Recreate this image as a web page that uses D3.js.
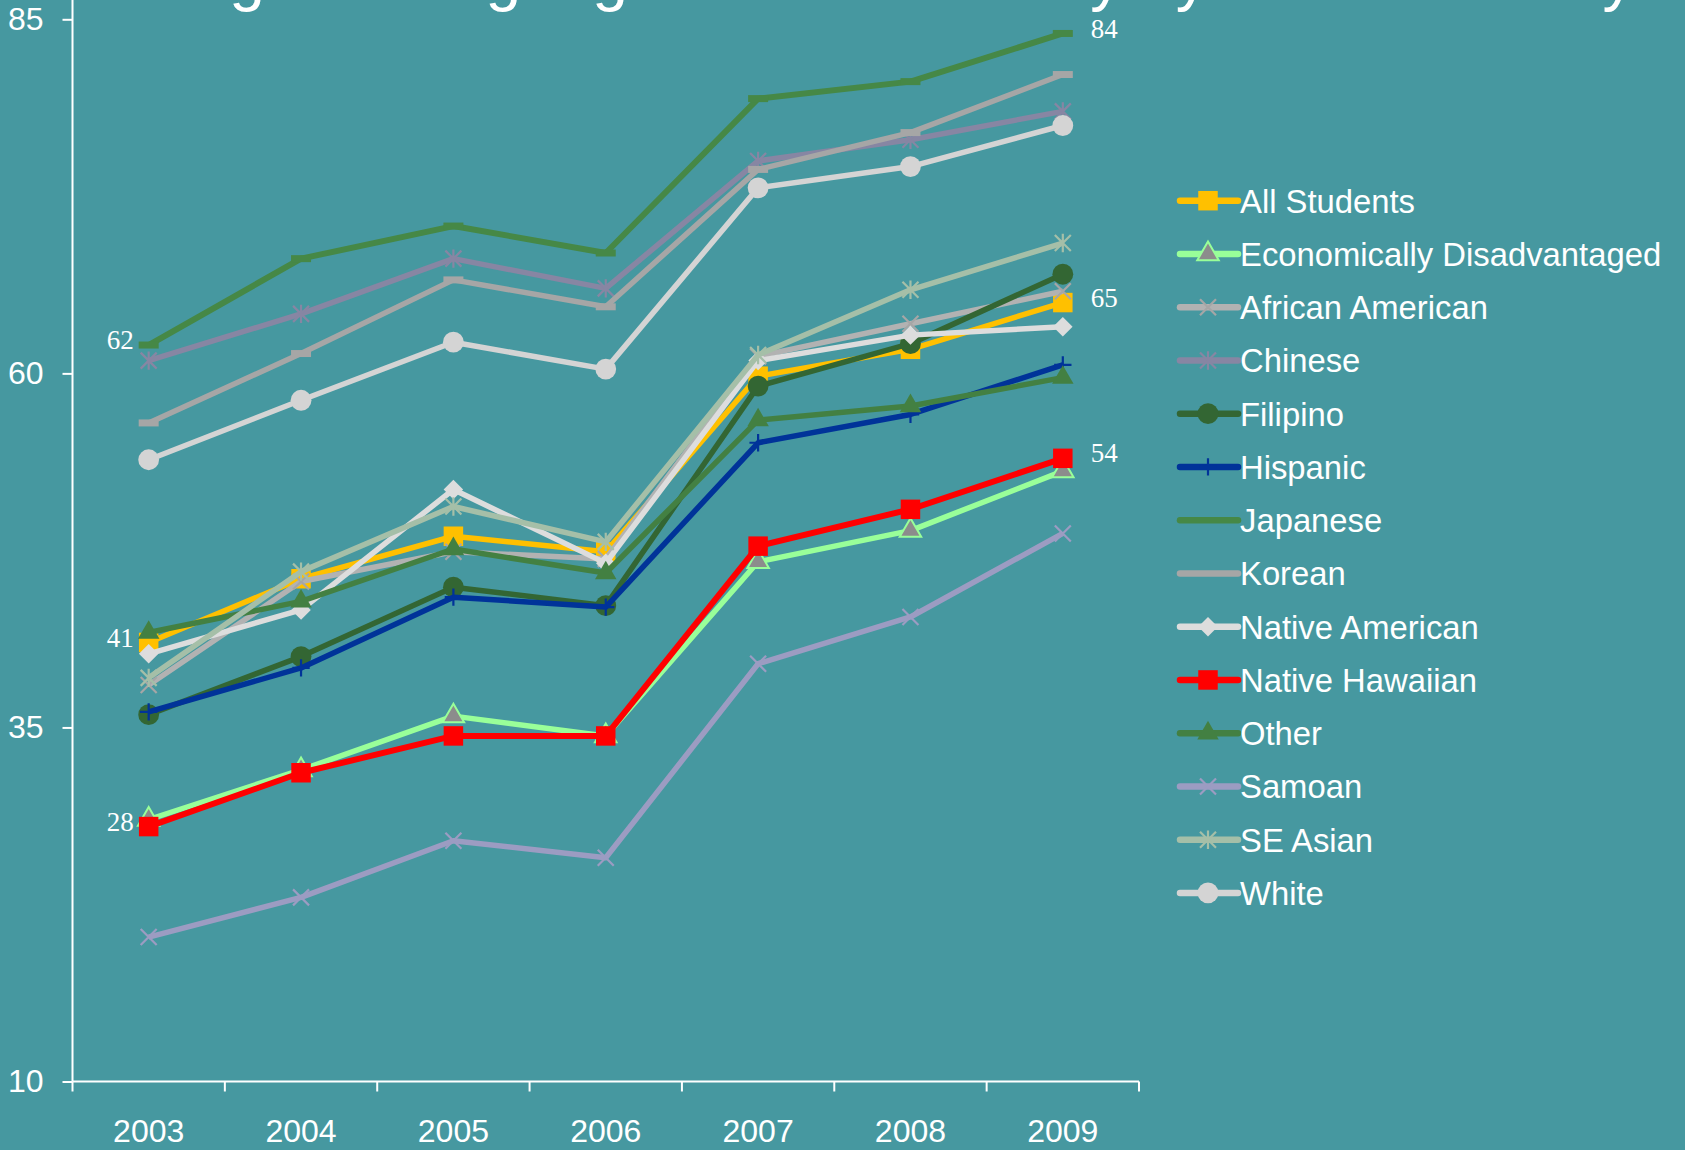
<!DOCTYPE html>
<html>
<head>
<meta charset="utf-8">
<script src="https://cdn.jsdelivr.net/npm/d3@7"></script>
<style>
  html, body { margin: 0; padding: 0; background: #4698A0; }
  svg { display: block; }
  text { font-family: "Liberation Sans", Arial, sans-serif; fill: #fff; }
</style>
</head>
<body>
<svg id="chart" width="1685" height="1150"></svg>
<script>
// School years on the horizontal axis
const years = ["2003", "2004", "2005", "2006", "2007", "2008", "2009"];
const yTicks = [10, 35, 60, 85];

// Percent proficient, one array per student group
const allStudents      = [41, 45.5, 48.5, 47.4, 59.8, 61.7, 65];
const econDisadvantaged = [28.5, 32.0, 35.8, 34.4, 46.7, 48.9, 53.1];
const africanAmerican  = [38.0, 45.3, 47.4, 46.9, 61.2, 63.5, 65.8];
const chinese          = [60.9, 64.2, 68.1, 66.0, 75.0, 76.5, 78.5];
const filipino         = [35.9, 40.0, 44.9, 43.6, 59.1, 62.1, 67.0];
const hispanic         = [36.1, 39.2, 44.2, 43.5, 55.1, 57.1, 60.6];
const japanese         = [62, 68.1, 70.4, 68.5, 79.4, 80.6, 84];
const korean           = [56.5, 61.4, 66.6, 64.7, 74.4, 77.0, 81.1];
const nativeAmerican   = [40.2, 43.3, 51.8, 46.6, 60.9, 62.7, 63.3];
const nativeHawaiian   = [28, 31.8, 34.4, 34.4, 47.8, 50.4, 54];
const otherGroup       = [41.7, 43.9, 47.6, 45.9, 56.7, 57.7, 59.7];
const samoan           = [20.2, 23.0, 27.0, 25.8, 39.5, 42.8, 48.7];
const seAsian          = [38.5, 46.0, 50.6, 48.1, 61.3, 65.9, 69.2];
const white            = [53.9, 58.1, 62.2, 60.3, 73.1, 74.6, 77.5];

// Groups whose first and last values are printed next to the points
const labelledGroups = ["Japanese", "All Students", "Native Hawaiian"];

// Custom marker shapes (Excel-style)
const symX = { draw(c, size) { const r = Math.sqrt(size) / 2; c.moveTo(-r, -r); c.lineTo(r, r); c.moveTo(-r, r); c.lineTo(r, -r); } };
const symStar = { draw(c, size) { const r = Math.sqrt(size) / 2; c.moveTo(-r, -r); c.lineTo(r, r); c.moveTo(-r, r); c.lineTo(r, -r); c.moveTo(0, -r * 1.15); c.lineTo(0, r * 1.15); } };
const symPlus = { draw(c, size) { const r = Math.sqrt(size) / 2; c.moveTo(0, -r); c.lineTo(0, r); c.moveTo(-r, 0); c.lineTo(r, 0); } };
const symDash = { draw(c, size) { const w = Math.sqrt(size) / 2; c.rect(-w, -3.5, 2 * w, 7); c.closePath(); } };
const symDiamond = { draw(c, size) { const r = Math.sqrt(size) / 2; c.moveTo(0, -r); c.lineTo(r, 0); c.lineTo(0, r); c.lineTo(-r, 0); c.closePath(); } };

const markers = {
  square:   { type: d3.symbolSquare, size: 380, filled: true },
  triangle: { type: d3.symbolTriangle, size: 200, filled: true },
  circle:   { type: d3.symbolCircle, size: 340, filled: true },
  diamond:  { type: symDiamond, size: 380, filled: true },
  x:        { type: symX, size: 256, filled: false },
  star:     { type: symStar, size: 256, filled: false },
  plus:     { type: symPlus, size: 300, filled: false },
  dash:     { type: symDash, size: 400, filled: true },
  none:     null
};

const groups = [
  { name: "All Students", values: allStudents, color: "#FFC000", marker: "square", mfill: "#FFC000", width: 5.5 },
  { name: "Economically Disadvantaged", values: econDisadvantaged, color: "#99FF99", marker: "triangle", mfill: "#8C8C8C", mstroke: "#99FF99", width: 5.5 },
  { name: "African American", values: africanAmerican, color: "#B2B2B2", marker: "x", mfill: "#A6A6A6", width: 5.5 },
  { name: "Chinese", values: chinese, color: "#8786A3", marker: "star", mfill: "#8786A3", width: 5.5 },
  { name: "Filipino", values: filipino, color: "#336633", marker: "circle", mfill: "#336633", width: 5.5 },
  { name: "Hispanic", values: hispanic, color: "#003399", marker: "plus", mfill: "#003399", width: 5.5 },
  { name: "Japanese", values: japanese, color: "#468846", marker: "dash", mfill: "#468846", width: 6 },
  { name: "Korean", values: korean, color: "#A6A6A6", marker: "dash", mfill: "#A6A6A6", width: 5.5 },
  { name: "Native American", values: nativeAmerican, color: "#DDDDDD", marker: "diamond", mfill: "#DDDDDD", width: 5.5 },
  { name: "Native Hawaiian", values: nativeHawaiian, color: "#FF0000", marker: "square", mfill: "#FF0000", width: 6 },
  { name: "Other", values: otherGroup, color: "#438042", marker: "triangle", mfill: "#438042", width: 5.5 },
  { name: "Samoan", values: samoan, color: "#9C9CC2", marker: "x", mfill: "#9C9CC2", width: 5.5 },
  { name: "SE Asian", values: seAsian, color: "#A5BFA8", marker: "star", mfill: "#A5BFA8", width: 5.5 },
  { name: "White", values: white, color: "#D4D4D4", marker: "circle", mfill: "#D4D4D4", width: 5.5 }
];

const svg = d3.select("#chart");

// Title (runs off the top edge of the slide)
svg.append("text")
  .attr("x", 151).attr("y", -1)
  .style("font-size", "64px")
  .text("English Language Arts Proficiency by Race/Ethnicity");

const x = d3.scaleBand().domain(years).range([72.5, 1139]);
const xc = d => x(d) + x.bandwidth() / 2;
const y = d3.scaleLinear().domain([10, 85]).range([1081.5, 19.3]);

// Y axis
const yAxis = svg.append("g").attr("transform", "translate(72.5,0)")
  .call(d3.axisLeft(y).tickValues(yTicks).tickSize(10).tickPadding(19).tickFormat(d3.format("d")));
yAxis.select(".domain").remove();
yAxis.insert("line", ":first-child").attr("x1", 0).attr("x2", 0).attr("y1", 0).attr("y2", y(10))
  .attr("stroke", "#fff").attr("stroke-width", 2);
yAxis.selectAll(".tick line").attr("stroke", "#fff").attr("stroke-width", 2);
yAxis.selectAll(".tick text").style("font-size", "32px").attr("fill", "#fff")
  .style("font-family", "'Liberation Sans', Arial, sans-serif");

// X axis: ticks sit on the band edges, labels in the band centres
const xAxis = svg.append("g").attr("transform", `translate(0,${y(10)})`);
xAxis.append("line").attr("x1", 72.5).attr("x2", 1139).attr("stroke", "#fff").attr("stroke-width", 2);
const edges = years.map(d => x(d)).concat([x(years[years.length - 1]) + x.bandwidth()]);
xAxis.selectAll("line.edge").data(edges).join("line").attr("class", "edge")
  .attr("x1", d => d).attr("x2", d => d).attr("y1", 0).attr("y2", 10)
  .attr("stroke", "#fff").attr("stroke-width", 2);
xAxis.selectAll("text").data(years).join("text")
  .attr("x", d => xc(d)).attr("y", 60)
  .attr("text-anchor", "middle").style("font-size", "32px")
  .text(d => d);

const line = d3.line().x((d, i) => xc(years[i])).y(d => y(d)).curve(d3.curveLinear);

function drawMarker(sel, g) {
  const m = markers[g.marker];
  if (!m) return sel;
  const p = sel.attr("d", d3.symbol().type(m.type).size(m.size));
  if (m.filled) {
    p.attr("fill", g.mfill);
    if (g.mstroke) p.attr("stroke", g.mstroke).attr("stroke-width", 2);
  } else {
    p.attr("fill", "none").attr("stroke", g.mfill).attr("stroke-width", 2.2);
  }
  return p;
}

// Series: line then markers, in legend order
const plot = svg.append("g");
groups.forEach(g => {
  const gg = plot.append("g");
  gg.append("path").datum(g.values)
    .attr("d", line)
    .attr("fill", "none").attr("stroke", g.color)
    .attr("stroke-width", g.width).attr("stroke-linejoin", "round");
  gg.selectAll("path.mk").data(g.values).join("path").attr("class", "mk")
    .attr("transform", (d, i) => `translate(${xc(years[i])},${y(d)})`)
    .call(s => drawMarker(s, g));
});

// Value labels at the first and last year
const fmt = d3.format(".0f");
labelledGroups.forEach(name => {
  const g = groups.find(s => s.name === name);
  const last = g.values.length - 1;
  svg.append("text")
    .attr("x", xc(years[0]) - 15).attr("y", y(g.values[0])).attr("dy", "0.15em")
    .attr("text-anchor", "end")
    .style("font-family", "'Liberation Serif', 'Times New Roman', serif").style("font-size", "27px")
    .text(fmt(g.values[0]));
  svg.append("text")
    .attr("x", xc(years[last]) + 28).attr("y", y(g.values[last])).attr("dy", "0.15em")
    .attr("text-anchor", "start")
    .style("font-family", "'Liberation Serif', 'Times New Roman', serif").style("font-size", "27px")
    .text(fmt(g.values[last]));
});

// Legend
const legend = svg.append("g").attr("transform", "translate(1180,200.7)");
const rows = legend.selectAll("g").data(groups).join("g")
  .attr("transform", (d, i) => `translate(0,${i * 53.25})`);
rows.append("line").attr("x1", 0).attr("x2", 58)
  .attr("stroke", d => d.color).attr("stroke-width", 6.5).attr("stroke-linecap", "round");
rows.each(function (g) {
  if (g.marker === "dash") return;
  d3.select(this).append("path").attr("transform", "translate(28,0)").call(s => drawMarker(s, g));
});
rows.append("text").attr("x", 60).attr("y", 12)
  .style("font-size", "32.8px")
  .text(d => d.name);
</script>
</body>
</html>
